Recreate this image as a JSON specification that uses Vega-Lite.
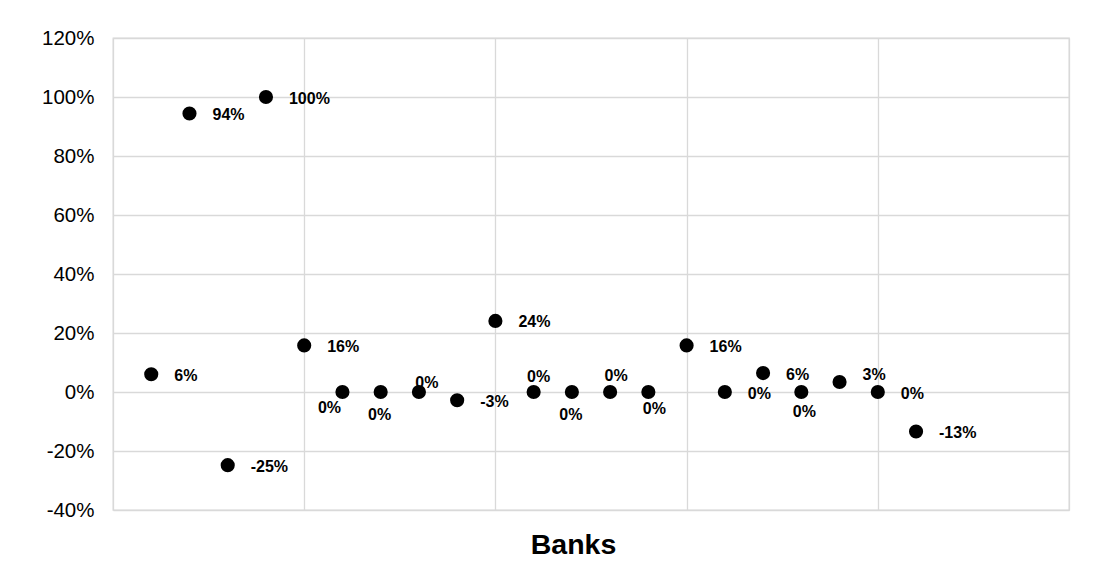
{
  "$schema": "https://vega.github.io/schema/vega-lite/v6.json",
  "width": 956,
  "height": 472,
  "autosize": "none",
  "padding": {"left": 113, "top": 38, "right": 36, "bottom": 68},
  "background": "white",
  "config": {
    "view": {"stroke": "#d9d9d9", "strokeWidth": 1.3},
    "font": "Liberation Sans",
    "locale": {"number": {"decimal": ".", "thousands": ",", "grouping": [3], "currency": ["$", ""], "minus": "-"}}
  },
  "data": {
    "values": [
      {"bank": 1, "change": 0.06},
      {"bank": 2, "change": 0.944},
      {"bank": 3, "change": -0.248},
      {"bank": 4, "change": 1.0},
      {"bank": 5, "change": 0.158},
      {"bank": 6, "change": 0},
      {"bank": 7, "change": 0},
      {"bank": 8, "change": 0},
      {"bank": 9, "change": -0.028},
      {"bank": 10, "change": 0.241},
      {"bank": 11, "change": 0},
      {"bank": 12, "change": 0},
      {"bank": 13, "change": 0},
      {"bank": 14, "change": 0},
      {"bank": 15, "change": 0.158},
      {"bank": 16, "change": 0},
      {"bank": 17, "change": 0.064},
      {"bank": 18, "change": 0},
      {"bank": 19, "change": 0.034},
      {"bank": 20, "change": 0},
      {"bank": 21, "change": -0.134}
    ]
  },
  "encoding": {
    "x": {
      "field": "bank",
      "type": "quantitative",
      "scale": {"domain": [0, 25], "nice": false},
      "axis": {
        "values": [0, 5, 10, 15, 20, 25],
        "labels": false,
        "ticks": false,
        "domain": false,
        "grid": true,
        "gridColor": "#d9d9d9",
        "gridWidth": 1.3,
        "title": "Banks",
        "titleFont": "Liberation Sans",
        "titleFontSize": 28.5,
        "titleFontWeight": "bold",
        "titleColor": "black",
        "titlePadding": 20,
        "titleX": 460
      }
    },
    "y": {
      "field": "change",
      "type": "quantitative",
      "scale": {"domain": [-0.4, 1.2], "nice": false, "zero": false},
      "axis": {
        "values": [-0.4, -0.2, 0, 0.2, 0.4, 0.6, 0.8, 1, 1.2],
        "format": ".0%",
        "ticks": false,
        "domain": false,
        "grid": true,
        "gridColor": "#d9d9d9",
        "gridWidth": 1.3,
        "labelPadding": 19,
        "labelFontSize": 20.5,
        "labelFont": "Liberation Sans",
        "labelColor": "black",
        "title": null
      }
    },
    "text": {"field": "change", "type": "quantitative", "format": ".0%"}
  },
  "layer": [
    {
      "mark": {"type": "circle", "size": 200, "color": "black", "opacity": 1},
      "encoding": {"text": null}
    },
    {
      "transform": [{"filter": {"field": "bank", "oneOf": [1, 2, 3, 4, 5, 9, 10, 15, 16, 17, 20, 21]}}],
      "mark": {"type": "text", "align": "left", "baseline": "middle", "dx": 23, "dy": 1.5, "fontSize": 16, "fontWeight": "bold", "color": "black"}
    },
    {
      "transform": [{"filter": {"field": "bank", "oneOf": [19]}}],
      "mark": {"type": "text", "align": "left", "baseline": "middle", "dx": 23, "dy": -7, "fontSize": 16, "fontWeight": "bold", "color": "black"}
    },
    {
      "transform": [{"filter": {"field": "bank", "oneOf": [7, 12]}}],
      "mark": {"type": "text", "align": "center", "baseline": "middle", "dx": -1, "dy": 23, "fontSize": 16, "fontWeight": "bold", "color": "black"}
    },
    {
      "transform": [{"filter": {"field": "bank", "oneOf": [6]}}],
      "mark": {"type": "text", "align": "center", "baseline": "middle", "dx": -13, "dy": 15.5, "fontSize": 16, "fontWeight": "bold", "color": "black"}
    },
    {
      "transform": [{"filter": {"field": "bank", "oneOf": [8]}}],
      "mark": {"type": "text", "align": "center", "baseline": "middle", "dx": 8, "dy": -9, "fontSize": 16, "fontWeight": "bold", "color": "black"}
    },
    {
      "transform": [{"filter": {"field": "bank", "oneOf": [11]}}],
      "mark": {"type": "text", "align": "center", "baseline": "middle", "dx": 5, "dy": -15, "fontSize": 16, "fontWeight": "bold", "color": "black"}
    },
    {
      "transform": [{"filter": {"field": "bank", "oneOf": [13]}}],
      "mark": {"type": "text", "align": "center", "baseline": "middle", "dx": 6, "dy": -16, "fontSize": 16, "fontWeight": "bold", "color": "black"}
    },
    {
      "transform": [{"filter": {"field": "bank", "oneOf": [14]}}],
      "mark": {"type": "text", "align": "center", "baseline": "middle", "dx": 6, "dy": 17, "fontSize": 16, "fontWeight": "bold", "color": "black"}
    },
    {
      "transform": [{"filter": {"field": "bank", "oneOf": [18]}}],
      "mark": {"type": "text", "align": "center", "baseline": "middle", "dx": 3, "dy": 20, "fontSize": 16, "fontWeight": "bold", "color": "black"}
    }
  ]
}
